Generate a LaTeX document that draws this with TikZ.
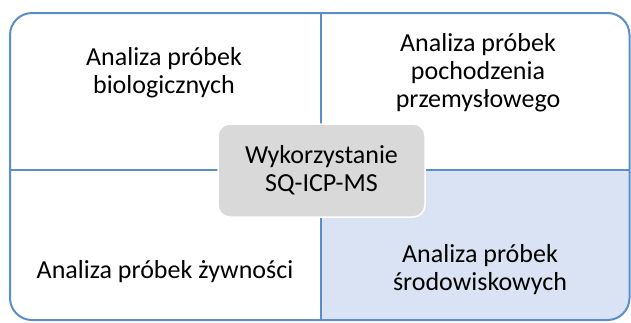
\documentclass[tikz,border=0pt]{standalone}
\usepackage{fontspec}
\setmainfont{Carlito}
\usepackage{tikz}
\usetikzlibrary{positioning}
\definecolor{frameblue}{RGB}{91,141,203}
\definecolor{paleblue}{RGB}{218,227,243}
\definecolor{hubgrey}{RGB}{217,217,217}
\tikzset{
  label text/.style={align=center,font=\fontsize{26}{28}\selectfont,text=black},
  hub/.style={draw=white,line width=1.5pt,fill=hubgrey,rounded corners=12pt,
    minimum width=207pt,minimum height=93pt,label text}
}
\begin{document}
\begin{tikzpicture}[x=1pt,y=-1pt]
\useasboundingbox (0,0) rectangle (631,322);
\fill[white,rounded corners=22pt] (10,13) rectangle (629.5,320);
\begin{scope}
\clip[rounded corners=22pt] (10,13) rectangle (629.5,320);
\fill[color=paleblue] (321,170) rectangle (630,321);
\end{scope}
\draw[color=frameblue,line width=2pt] (321,13) -- (321,320);
\draw[color=frameblue,line width=2pt] (10,170) -- (629.5,170);
\draw[color=frameblue,line width=2pt,rounded corners=22pt] (10,13) rectangle (629.5,320);
\node[label text] (bio) at (164,73) {Analiza próbek\\biologicznych};
\node[label text] (przem) at (478,73) {Analiza próbek\\pochodzenia\\przemysłowego};
\node[label text] (zyw) at (165,272) {Analiza próbek żywności};
\node[label text] (srod) at (480,270) {Analiza próbek\\środowiskowych};
\node[hub] (hub) at (321.5,170.5) {\raisebox{-1pt}{\parbox{180pt}{\centering Wykorzystanie\\SQ-ICP-MS}}};
\end{tikzpicture}
\end{document}
